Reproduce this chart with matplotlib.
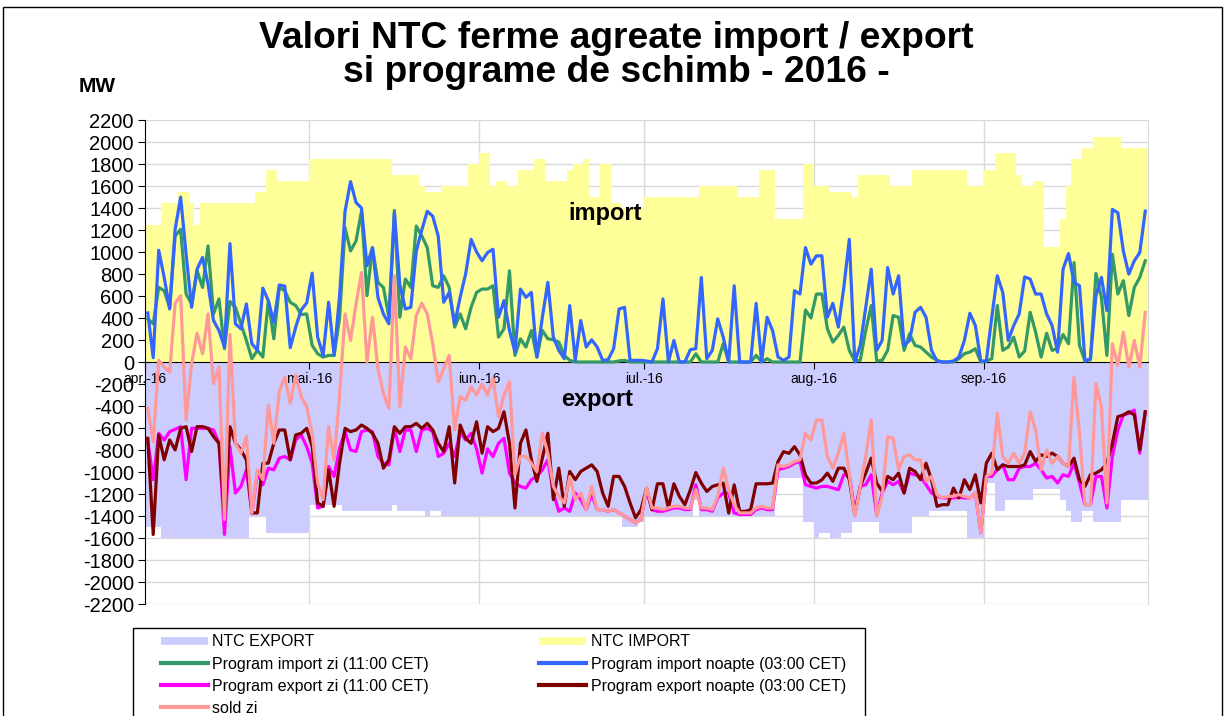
import numpy as np
import pandas as pd
import matplotlib
matplotlib.use("Agg")
import matplotlib.pyplot as plt
from matplotlib.lines import Line2D
from matplotlib.patches import Rectangle

plt.rcParams['font.family'] = ['Liberation Sans', 'DejaVu Sans']
plt.rcParams['axes.unicode_minus'] = False

start = "2016-04-01"
n_days = 183
month_labels = ["apr.-16", "mai.-16", "iun.-16", "iul.-16", "aug.-16", "sep.-16"]

# NTC values (MW) and how many days each value lasts
ntc_import_val = [1250, 1450, 1550, 1450, 1250, 1450, 1550, 1750, 1650,
                  1850, 1700, 1600, 1550, 1600, 1800,
                  1900, 1600, 1650, 1600, 1750, 1850, 1650, 1750, 1800, 1850, 1500, 1800, 1450, 1400,
                  1500, 1600, 1500, 1750, 1300, 1800,
                  1600, 1550, 1500, 1700, 1600, 1750, 1600,
                  1750, 1900, 1700, 1600, 1650, 1050, 1300, 1600, 1850, 1950, 2050, 1950]
ntc_import_len = [3, 3, 2, 1, 1, 10, 2, 2, 6,
                  15, 5, 1, 3, 5, 2,
                  2, 1, 2, 2, 3, 2, 4, 1, 2, 1, 2, 2, 2, 4,
                  10, 7, 4, 3, 5, 2,
                  3, 4, 1, 6, 4, 10, 3,
                  2, 4, 1, 2, 2, 3, 1, 1, 2, 2, 5, 5]

ntc_export_val = [-1500, -1600, -1400, -1550,
                  -1300, -1350, -1300, -1350, -1400, -1350, -1400,
                  -1500, -1450,
                  -1400, -1250, -1400, -1050, -1450,
                  -1600, -1550, -1600, -1550, -1450, -1550, -1400, -1350, -1600,
                  -1100, -1350, -1250, -1150, -1250, -1350, -1450, -1350, -1450, -1250]
ntc_export_len = [3, 16, 3, 8,
                  6, 9, 1, 5, 1, 2, 33,
                  3, 1,
                  9, 1, 14, 5, 2,
                  1, 2, 2, 2, 5, 6, 3, 7, 3,
                  2, 2, 5, 5, 1, 1, 2, 2, 5, 5]

# daily programmes (MW), 1 Apr - 30 Sep 2016
import_zi = [392, 347, 678, 648, 497, 1146, 1206, 618, 528, 829, 678, 1055, 437, 573, 121, 550, 497, 347, 196, 30,
             106, 45, 558, 211, 678, 648, 543, 513, 431, 437, 151, 75, 45,
             60, 60, 400, 1221, 1010, 1100, 1372, 603, 1040, 724, 678, 407, 1378, 407, 754, 678, 1236, 1146, 1040, 693,
             678, 784, 678, 317, 437, 302, 497, 633, 663, 663, 693,
             226, 302, 829, 60, 211, 136, 286, 45, 286, 211, 202, 181, 60, 15, 0, 0, 0, 0, 0, 0, 0, 0, 10, 15, 0, 0, 0,
             0, 0, 0, 0, 0, 0, 0, 0, 0, 75, 0, 0, 0, 0, 166, 0, 0, 0, 0, 0, 60, 0, 30, 0, 0, 0, 0, 0, 0, 473, 400,
             618, 618, 302, 181, 241, 317, 106, 9, 15, 286, 513, 9, 15, 106, 422, 407, 106, 256, 151, 136,
             90, 45, 15, 0, 0, 0, 30, 75, 90, 121, 0,
             9, 30, 513, 106, 136, 226, 45, 100, 452, 271, 45, 262, 106, 121, 250, 166, 904, 151, 9, 21,
             805, 588, 60, 980, 618, 739, 422, 678, 769, 920]
import_noapte = [446, 39, 1016, 769, 482, 1206, 1498, 980, 497, 844, 950, 708, 377, 286, 136, 1076, 347, 302, 528, 166,
                 106, 672, 558, 362, 700, 690, 130, 317, 473, 537, 808, 226, 60,
                 543, 60, 600, 1370, 1640, 1450, 1400, 875, 1040, 588, 437, 347, 1355, 700, 482, 497, 1010, 1200, 1370,
                 1325, 1145, 543, 633, 347, 588, 800, 1115, 1000, 920, 995, 1025,
                 407, 558, 286, 90, 663, 588, 633, 45, 407, 724, 226, 106, 30, 513, 15, 377, 136, 202, 136, 15,
                 21, 121, 482, 497, 15, 15, 15,
                 9, 0, 121, 573, 0, 196, 0, 0, 112, 121, 769, 30, 106, 392, 226, 0, 693, 0, 0, 0,
                 533, 0, 407, 286, 45, 15, 45, 648, 618, 1040, 889,
                 965, 965, 407, 533, 317, 678, 1115, 0, 150, 500, 844, 106, 196, 859, 618, 784, 151, 196, 452, 497,
                 407, 106, 9, 0, 0, 9, 45, 196, 443, 332, 9,
                 9, 407, 784, 633, 196, 332, 437, 774, 754, 618, 618, 437, 332, 90, 844, 986, 724, 693, 9, 30,
                 603, 769, 467, 1387, 1357, 1010, 799, 920, 995, 1372]
export_zi = [-709, -1070, -648, -709, -633, -612, -588, -1070, -603, -603, -603, -603, -618, -739, -1568, -769,
             -1191, -1131, -980, -1372, -1010, -1116, -965, -980, -874, -859, -889, -709, -663, -769, -920, -1327, -1312,
             -950, -1040, -784, -633, -799, -814, -633, -618, -633, -859, -920, -935, -603, -814, -618, -618, -814,
             -618, -603, -633, -859, -829, -739, -859, -633, -709, -648, -790, -1010, -790, -860,
             -739, -694, -1010, -1100, -1131, -1146, -1070, -1040, -980, -889, -1191, -1357, -1327, -1357, -1191,
             -1251, -1342, -1200, -1342, -1342, -1357, -1342, -1372, -1402, -1432, -1462, -1432,
             -1161, -1342, -1357, -1357, -1342, -1327, -1327, -1342, -1340, -1116, -1342, -1342, -1357, -1236, -1191,
             -1191, -1372, -1387, -1387, -1387, -1342, -1327, -1342, -1342, -980, -965, -950, -920, -904, -1116, -1131,
             -1146, -1131, -1131, -1146, -1161, -1025, -1025, -1357, -1131, -1116, -1025, -1387, -1191, -1085, -1116,
             -1085, -1191, -1010, -1025, -1040, -1116, -1191, -1221, -1236, -1236, -1236, -1230, -1236, -1236, -1191,
             -1553,
             -1040, -1040, -980, -935, -1070, -1070, -965, -950, -950, -920, -980, -1055, -1040, -1100, -1025, -1040,
             -920, -1100, -1297, -1297, -1040, -1040, -1327, -859, -618, -482, -467, -437, -829, -452]
export_noapte = [-694, -1568, -663, -889, -709, -799, -603, -588, -814, -588, -588, -603, -678, -739, -1387, -588,
                 -739, -799, -889, -1372, -1372, -920, -920, -739, -618, -618, -889, -663, -648, -603, -769, -1281,
                 -1312,
                 -980, -1312, -920, -603, -633, -618, -573, -603, -648, -739, -965, -889, -588, -648, -588, -588, -558,
                 -603, -558, -618, -739, -814, -588, -1100, -573, -694, -739, -543, -829, -588, -633,
                 -603, -452, -739, -1327, -739, -618, -889, -1085, -874, -648, -1251, -965, -1312, -995, -1070, -995,
                 -965, -935, -995, -1191, -1312, -1040, -1040, -1131, -1281, -1417, -1342,
                 -1147, -1343, -1107, -1107, -1328, -1107, -1222, -1297, -1162, -1005, -1101, -1177, -1132, -1117,
                 -1101, -1373, -1117, -1358, -1358, -1343, -1107, -1107, -1107, -1101, -905, -815, -830, -770, -845,
                 -1026, -1101,
                 -1100, -1071, -1010, -1085, -965, -965, -1070, -1387, -1131, -1010, -874, -1100, -1176, -1040, -1070,
                 -1010, -1191, -965, -995, -1070, -920, -1070, -1312, -1297, -1297, -1146, -1236, -1070, -1161, -1025,
                 -1281,
                 -920, -829, -980, -935, -950, -950, -950, -935, -814, -904, -844, -859, -829, -859, -920, -950, -874,
                 -1070, -1131, -1025, -1010, -980, -920, -739, -497, -482, -452, -480, -800, -452]
sold_zi = [-422, -724, 15, -45, -90, 534, 603, -528, -15, 262, 75, 437, -196, -45, -1432, 250, -739, -829, -678, -1372,
           -980, -1070, -392, -739, -271, -136, -377, -120, -317, -407, -650, -1100, -1251,
           -588, -889, -300, 437, 196, 528, 814, 0, 407, -60, -286, -422, 784, -407, 136, 30, 422, 534, 437, 166,
           -181, -60, 60, -618, -317, -347, -226, -300, -200, -300, -150,
           -497, -301, -181, -1025, -859, -859, -920, -995, -648, -829, -1131, -1221, -1281, -1040, -1251, -1191,
           -1342, -1131, -1342, -1342, -1357, -1342, -1372, -1402, -1432, -1462, -1432,
           -1140, -1327, -1327, -1342, -1327, -1312, -1312, -1327, -1330, -1160, -1327, -1327, -1342, -1221, -965,
           -1161, -1300, -1372, -1372, -1372, -1327, -1312, -1327, -1327, -935, -950, -935, -904, -889, -648, -709,
           -528, -528, -859, -965, -829, -648, -1025, -1402, -1131, -859, -528, -1402, -1221, -678, -694, -980, -859,
           -844, -889, -889, -1085, -1040, -1206, -1236, -1221, -1221, -1206, -1221, -1236, -1191, -1553,
           -1040, -1010, -467, -859, -920, -829, -920, -829, -452, -618, -980, -799, -920, -859, -920, -950, -136,
           -648, -1297, -1297, -196, -407, -1281, 166, -30, 271, -45, 196, -45, 452]

days = pd.date_range(start, periods=n_days, freq="D")
edges = pd.date_range(start, periods=n_days + 1, freq="D")
mid = days + pd.Timedelta(hours=12)
month_starts = pd.date_range(start, periods=6, freq="MS")

ntc_imp = np.repeat(ntc_import_val, ntc_import_len)
ntc_exp = np.repeat(ntc_export_val, ntc_export_len)

fig = plt.figure(figsize=(12.25, 7.16), dpi=100)
ax = fig.add_axes([145 / 1225, 1 - 604 / 716, 1003 / 1225, 484 / 716])

grid_c = "#D9D9D9"
for v in np.arange(-2200, 2201, 200):
    ax.axhline(v, color=grid_c, lw=1, zorder=0)
for d in month_starts[1:]:
    ax.axvline(d, color=grid_c, lw=1, zorder=0)

ax.fill_between(edges, np.append(ntc_imp, ntc_imp[-1]), 0, step="post", color="#FFFF99", lw=0, zorder=1)
ax.fill_between(edges, np.append(ntc_exp, ntc_exp[-1]), 0, step="post", color="#CCCCFF", lw=0, zorder=1)

lw = 2.3
ax.plot(mid, import_zi, color="#339966", lw=lw, zorder=3)
ax.plot(mid, import_noapte, color="#3366FF", lw=lw, zorder=3)
ax.plot(mid, export_zi, color="#FF00FF", lw=lw, zorder=3)
ax.plot(mid, export_noapte, color="#800000", lw=lw, zorder=3)
ax.plot(mid, sold_zi, color="#FF9999", lw=lw, zorder=3)

ax.set_xlim(edges[0], edges[-1])
ax.set_ylim(-2200, 2200)
ax.set_yticks(np.arange(-2200, 2201, 200))
ax.set_xticks(month_starts)
ax.set_xticklabels(month_labels, fontsize=14)
ax.tick_params(axis="y", labelsize=14.5, direction="out", length=5, pad=3)
ax.tick_params(axis="x", direction="out", length=5, pad=2)
ax.spines["bottom"].set_position(("data", 0))
ax.spines["top"].set_visible(False)
ax.spines["right"].set_color(grid_c)

ax.text(pd.Timestamp("2016-06-24"), 1346, "import", fontsize=17, fontweight="bold", ha="center", va="center", zorder=4)
ax.text(pd.Timestamp("2016-06-22 12:00"), -337, "export", fontsize=17, fontweight="bold", ha="center", va="center", zorder=4)

fig.text(616 / 1225, 1 - 39 / 716, "Valori NTC ferme agreate import / export", fontsize=26.8, fontweight="bold",
         ha="center", va="center")
fig.text(616 / 1225, 1 - 72 / 716, "si programe de schimb - 2016 -", fontsize=26.8, fontweight="bold",
         ha="center", va="center")
fig.text(97 / 1225, 1 - 87 / 716, "MW", fontsize=15, fontweight="bold", ha="center", va="center")

fig.patches.append(Rectangle((3 / 1225, -0.05), 1219 / 1225, 1.05 - 7 / 716, transform=fig.transFigure,
                             fill=False, ec="black", lw=1))
# legend frame (bottom is cut off by the picture edge)
fig.patches.append(Rectangle((133 / 1225, -0.05), 732 / 1225, 0.05 + 1 - 628 / 716, transform=fig.transFigure,
                             fill=False, ec="black", lw=1))

handles = [Line2D([], [], color="#CCCCFF", lw=5.5, solid_capstyle="butt"),
           Line2D([], [], color="#339966", lw=3),
           Line2D([], [], color="#FF00FF", lw=3),
           Line2D([], [], color="#FF9999", lw=3),
           Line2D([], [], color="#FFFF99", lw=5.5, solid_capstyle="butt"),
           Line2D([], [], color="#3366FF", lw=3),
           Line2D([], [], color="#800000", lw=3)]
labels = ["NTC EXPORT", "Program import zi (11:00 CET)", "Program export zi (11:00 CET)", "sold zi",
          "NTC IMPORT", "Program import noapte (03:00 CET)", "Program export noapte (03:00 CET)"]
leg = fig.legend(handles, labels, loc="upper left", bbox_to_anchor=(155 / 1225, 1 - 628 / 716), ncol=2,
                 fontsize=11.5, handlelength=2.9, handletextpad=0.3, columnspacing=6.9, labelspacing=0.45,
                 borderaxespad=0, borderpad=0.4, frameon=False)

fig.savefig("out.png", dpi=100)
